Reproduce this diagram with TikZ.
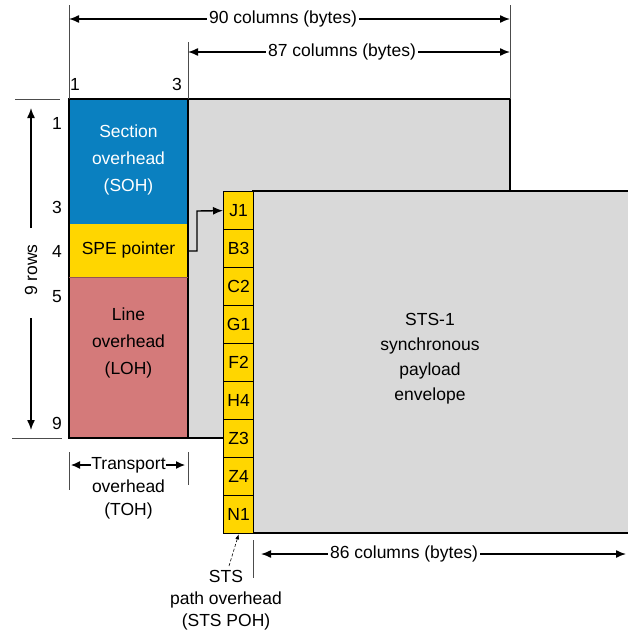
\documentclass[tikz,border=0pt]{standalone}
\usepackage{fontspec}
\setmainfont{Liberation Sans}
\usetikzlibrary{arrows.meta}
\definecolor{sohblue}{RGB}{10,128,192}
\definecolor{speyel}{RGB}{255,214,0}
\definecolor{lohpink}{RGB}{212,122,122}
\definecolor{panelgray}{RGB}{217,217,217}
\begin{document}
\begin{tikzpicture}[x=1pt,y=-1pt,
  lbl/.style={font=\fontsize{17.5}{24}\selectfont, inner sep=1pt, align=center},
  tip/.style={-{Latex[length=10pt,width=8pt]}, line width=1.4pt},
  tick/.style={line width=0.6pt, draw=black!70},
  cell/.style={draw=black, line width=1.3pt, fill=speyel, minimum width=30pt, minimum height=38pt, inner sep=0pt, font=\fontsize{17.5}{20}\selectfont, anchor=north west}
]
\useasboundingbox (0,0) rectangle (628,637);
% back frame
\fill[panelgray] (69,99) rectangle (510,438);
\fill[sohblue] (69,99) rectangle (188,224);
\fill[speyel] (69,224) rectangle (188,277);
\fill[lohpink] (69,277) rectangle (188,438);
\draw[line width=1.2pt] (69,99) rectangle (510,438);
\draw[line width=1.2pt] (188,99) -- (188,438);
\draw[line width=0.6pt, draw=lohpink!70!black] (69,277) -- (188,277);
\node[lbl, text=white, font=\fontsize{17.5}{27}\selectfont] (soh) at (128.5,160) {Section\\overhead\\(SOH)};
\node[lbl] (spe) at (128.5,250) {SPE pointer};
\node[lbl, font=\fontsize{17.5}{27}\selectfont] (loh) at (128.5,343) {Line\\overhead\\(LOH)};
% front panel
\fill[panelgray] (253,191) rectangle (640,533);
\draw[line width=1.2pt] (640,191) -- (253,191) -- (253,533) -- (640,533);
\node[cell] (j1) at (223,191) {J1};
\node[cell] (b3) at (223,229) {B3};
\node[cell] (c2) at (223,267) {C2};
\node[cell] (g1) at (223,305) {G1};
\node[cell] (f2) at (223,343) {F2};
\node[cell] (h4) at (223,381) {H4};
\node[cell] (z3) at (223,419) {Z3};
\node[cell] (z4) at (223,457) {Z4};
\node[cell] (n1) at (223,495) {N1};
\node[lbl, font=\fontsize{17.5}{25}\selectfont] (env) at (430,359) {STS-1\\synchronous\\payload\\envelope};
% pointer arrow
\coordinate (pa) at (188,251);
\draw[tip] (pa) -- (197,251) -- (197,211) -- (j1.west);
% top dimensions
\draw[tick] (69,5) -- (69,99);
\draw[tick] (510,5) -- (510,99);
\draw[tick] (188,42) -- (188,99);
\node[lbl, fill=white, inner sep=2pt] (c90) at (283,19) {90 columns (bytes)};
\coordinate (t90l) at (69,19); \coordinate (t90r) at (510,19);
\draw[tip] (c90.west) -- (t90l);
\draw[tip] (c90.east) -- (t90r);
\node[lbl, fill=white, inner sep=2pt] (c87) at (342,52) {87 columns (bytes)};
\coordinate (t87l) at (188,52); \coordinate (t87r) at (510,52);
\draw[tip] (c87.west) -- (t87l);
\draw[tip] (c87.east) -- (t87r);
\node[lbl] (n1c) at (75,84) {1};
\node[lbl] (n3c) at (177,84) {3};
% left row numbers
\draw[tick] (15,99) -- (60,99);
\draw[tick] (12,438) -- (62,438);
\node[lbl] (r1) at (57,123) {1};
\node[lbl] (r3) at (57,207) {3};
\node[lbl] (r4) at (57,251) {4};
\node[lbl] (r5) at (57,297) {5};
\node[lbl] (r9) at (57,423) {9};
\node[lbl, rotate=90] (rows) at (31,270) {9 rows};
\coordinate (ru) at (31,108); \coordinate (rd) at (31,430);
\draw[tip] (31,228) -- (ru);
\draw[tip] (31,318) -- (rd);
% transport overhead
\draw[tick] (69,452) -- (69,490);
\draw[tick] (188,452) -- (188,485);
\node[lbl, font=\fontsize{17.5}{23}\selectfont] (toh) at (128.5,488) {\phantom{Transport}\\overhead\\(TOH)};
\node[lbl, inner sep=0.5pt] (tr) at (128.5,465) {Transport};
\coordinate (tl) at (71,465); \coordinate (trr) at (185,465);
\draw[line width=1.2pt, -{Latex[length=9pt,width=8pt]}] (tr.west) -- (tl);
\draw[line width=1.2pt, -{Latex[length=9pt,width=8pt]}] (tr.east) -- (trr);
% STS POH
\node[lbl, font=\fontsize{17.5}{22}\selectfont] (poh) at (226,600) {STS\\path overhead\\(STS POH)};
\coordinate (pohs) at (229,566);
\draw[line width=0.6pt, densely dashed, -{Latex[length=5pt,width=4pt]}] (pohs) -- (n1.south);
% 86 columns
\draw[tick] (253,540) -- (253,578);
\node[lbl, fill=white, inner sep=2pt] (c86) at (404,554) {86 columns (bytes)};
\coordinate (b86l) at (261,554); \coordinate (b86r) at (626,554);
\draw[tip] (c86.west) -- (b86l);
\draw[tip] (c86.east) -- (b86r);
\end{tikzpicture}
\end{document}
